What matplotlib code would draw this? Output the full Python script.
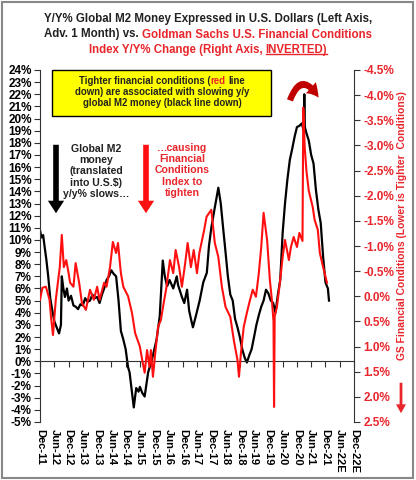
import numpy as np
import pandas as pd
import matplotlib
matplotlib.use("Agg")
import matplotlib.pyplot as plt
import matplotlib.dates as mdates
from matplotlib.patches import Rectangle, FancyArrowPatch
from matplotlib.lines import Line2D

plt.rcParams['font.family'] = ['Liberation Sans', 'DejaVu Sans']
plt.rcParams['font.weight'] = 'bold'

RED = '#e8262c'

# global M2 y/y % (left axis)
m2_dates = ["2011-12-01", "2011-12-20", "2012-01-10", "2012-02-01", "2012-02-20", "2012-03-15",
            "2012-04-10", "2012-05-01", "2012-06-01", "2012-07-01", "2012-08-01", "2012-08-25",
            "2012-09-05", "2012-09-25", "2012-10-15", "2012-11-10", "2012-12-01", "2013-01-01",
            "2013-02-01", "2013-03-01", "2013-04-01", "2013-05-01", "2013-06-01", "2013-07-01",
            "2013-08-01", "2013-09-01", "2013-10-01", "2013-11-01", "2013-12-01", "2014-01-01",
            "2014-02-01", "2014-03-01", "2014-04-01", "2014-05-01", "2014-06-01", "2014-07-01",
            "2014-08-01", "2014-09-01", "2014-10-01", "2014-11-01", "2014-12-01", "2015-01-01",
            "2015-01-20", "2015-03-15", "2015-04-15", "2015-05-15", "2015-06-01", "2015-07-01",
            "2015-08-01", "2015-09-15", "2015-11-01", "2016-01-01", "2016-02-10", "2016-03-20",
            "2016-04-15", "2016-05-15", "2016-06-15", "2016-08-01", "2016-09-15", "2016-10-01",
            "2016-11-20", "2016-12-20", "2017-01-25", "2017-02-20", "2017-03-15", "2017-04-10",
            "2017-05-20", "2017-07-05", "2017-08-20", "2017-10-05", "2017-11-01", "2017-12-01",
            "2018-01-10", "2018-03-01", "2018-04-01", "2018-05-01", "2018-06-01", "2018-07-01",
            "2018-08-01", "2018-09-01", "2018-10-01", "2018-11-01", "2018-12-01", "2019-01-01",
            "2019-02-01", "2019-03-01", "2019-04-01", "2019-05-01", "2019-06-01", "2019-07-01",
            "2019-08-01", "2019-09-01", "2019-10-01", "2019-11-01", "2019-12-01", "2020-01-01",
            "2020-02-01", "2020-03-01", "2020-04-01", "2020-05-01", "2020-06-01", "2020-07-01",
            "2020-08-01", "2020-09-01", "2020-10-01", "2020-11-01", "2020-12-01", "2021-01-01",
            "2021-02-01", "2021-02-25", "2021-03-05", "2021-03-12", "2021-04-01", "2021-05-01",
            "2021-06-01", "2021-07-01", "2021-08-01", "2021-09-01", "2021-10-01", "2021-11-01",
            "2021-12-01", "2022-01-01", "2022-01-15"]
m2_yoy = [10.8, 10.2, 10.4, 9.3, 8.4, 7.0,
          5.2, 4.4, 3.3, 2.8, 2.3, 3.0,
          7.0, 6.0, 5.3, 6.0, 5.0, 5.4,
          4.6, 4.5, 4.3, 4.7, 4.6, 5.2,
          4.9, 5.0, 5.5, 5.2, 5.3, 4.8,
          5.5, 6.0, 6.7, 7.0, 7.5, 7.2,
          7.0, 5.0, 2.5, 1.8, 1.0, -0.5,
          -0.9, -3.8, -2.2, -2.5, -2.1, -2.6,
          -2.9, -0.9, 0.1, 1.8, 3.7, 8.3,
          7.0, 6.2, 6.7, 6.0, 7.0, 6.3,
          5.3, 4.8, 5.9, 4.2, 3.5, 2.8,
          3.8, 5.0, 6.5, 7.3, 9.5, 11.0,
          12.5, 14.3, 13.0, 11.0, 9.0, 7.0,
          5.5, 5.0, 3.5, 2.8, 2.0, 1.0,
          0.3, -0.1, 0.5, 1.0, 2.0, 3.0,
          3.8, 4.5, 5.0, 5.9, 5.6, 5.0,
          4.8, 4.0, 5.5, 6.7, 10.6, 13.0,
          15.0, 16.6, 17.5, 18.5, 19.3, 19.4,
          19.6, 19.0, 22.0, 19.3, 18.8, 18.2,
          17.0, 16.3, 14.1, 12.5, 11.4, 8.6,
          6.5, 6.0, 5.0]

# GS financial conditions index y/y change (right axis, inverted)
fci_dates = ["2011-12-01", "2012-01-01", "2012-02-15", "2012-04-01", "2012-04-20", "2012-05-15",
             "2012-06-20", "2012-08-10", "2012-09-05", "2012-10-01", "2012-11-01", "2012-12-01",
             "2012-12-20", "2013-02-01", "2013-03-01", "2013-04-15", "2013-05-20", "2013-07-10",
             "2013-09-01", "2013-10-20", "2013-12-01", "2014-01-01", "2014-03-01", "2014-04-01",
             "2014-05-15", "2014-06-20", "2014-08-01", "2014-08-25", "2014-10-01", "2014-11-01",
             "2015-01-01", "2015-02-20", "2015-04-01", "2015-06-01", "2015-07-01", "2015-08-01",
             "2015-09-01", "2015-10-01", "2015-10-20", "2015-11-15", "2015-12-10", "2016-01-20",
             "2016-02-25", "2016-04-01", "2016-05-01", "2016-06-20", "2016-08-01", "2016-09-01",
             "2016-10-15", "2016-11-20", "2017-01-01", "2017-02-01", "2017-03-15", "2017-04-20",
             "2017-06-01", "2017-07-01", "2017-09-01", "2017-10-01", "2017-12-01", "2018-01-15",
             "2018-03-01", "2018-04-15", "2018-06-01", "2018-08-01", "2018-09-15", "2018-11-01",
             "2018-11-20", "2018-12-15", "2019-01-20", "2019-03-01", "2019-04-01", "2019-05-15",
             "2019-06-25", "2019-08-01", "2019-09-01", "2019-10-01", "2019-11-15", "2019-12-20",
             "2020-01-15", "2020-02-05", "2020-02-12", "2020-02-20", "2020-03-20", "2020-05-01",
             "2020-06-01", "2020-07-01", "2020-08-20", "2020-09-15", "2020-10-20", "2020-12-01",
             "2021-01-01", "2021-02-10", "2021-02-20", "2021-03-10", "2021-04-01", "2021-05-01",
             "2021-06-20", "2021-07-15", "2021-08-25", "2021-09-20", "2021-11-01", "2021-11-20",
             "2021-12-20"]
fci_yoy = [0.07, -0.17, -0.19, 0.07, 0.41, 0.77,
           0.07, -0.58, -1.22, -0.58, -0.72, -0.46,
           -0.27, -0.19, -0.66, -0.27, 0.13, 0.27,
           -0.13, 0.07, -0.19, 0.07, -0.27, -0.19,
           -0.58, -1.08, -0.86, -1.06, -0.46, -0.19,
           0.0, 0.33, 0.73, 1.0, 1.27, 1.52,
           1.07, 1.4, 1.07, 1.6, 1.2, 0.61,
           0.47, 0.13, -0.13, -0.72, -0.46, -0.92,
           -0.58, -0.19, -0.66, -1.06, -0.58, -0.92,
           -0.46, -0.86, -1.32, -1.58, -1.72, -1.06,
           -0.78, -0.19, 0.21, 0.41, 0.87, 1.27,
           1.6, 1.13, 0.61, 0.33, 0.13, -0.13,
           0.01, -0.46, -0.98, -1.66, -1.12, -0.33,
           0.07, 0.5, 2.2, 0.4, 0.21, -0.33,
           -0.78, -1.12, -0.72, -0.98, -1.18, -0.98,
           -1.26, -1.1, -3.75, -2.97, -2.5, -2.1,
           -1.78, -1.52, -1.32, -0.86, -0.58, -0.46,
           -0.27]

tick_labels = ["Dec-11", "Jun-12", "Dec-12", "Jun-13", "Dec-13", "Jun-14", "Dec-14", "Jun-15",
               "Dec-15", "Jun-16", "Dec-16", "Jun-17", "Dec-17", "Jun-18", "Dec-18", "Jun-19",
               "Dec-19", "Jun-20", "Dec-20", "Jun-21", "Dec-21", "Jun-22E", "Dec-22E"]
tick_dates = pd.date_range("2011-12-01", "2022-12-01", freq="6MS")

W, H = 416, 480
fig = plt.figure(figsize=(W / 100, H / 100), dpi=100)


def px(x, y):
    return x / W, 1 - y / H


ax = fig.add_axes([40 / W, 1 - 422 / H, 314 / W, 352 / H])
ax2 = ax.twinx()

ax.plot(mdates.date2num(pd.to_datetime(m2_dates)), m2_yoy, color='black', lw=1.6)
ax2.plot(mdates.date2num(pd.to_datetime(fci_dates)), fci_yoy, color='#ff1010', lw=1.5)

xt = mdates.date2num(tick_dates)
ax.set_xlim(xt[0], xt[-1])
ax.set_ylim(-5, 24)
ax2.set_ylim(2.5, -4.5)

ax.set_yticks(np.arange(-5, 25, 1))
ax.set_yticklabels([f"{v}%" for v in range(-5, 25)])
ax2.set_yticks(np.arange(-4.5, 2.51, 0.5))
ax2.set_yticklabels([f"{v:.1f}%" for v in np.arange(-4.5, 2.51, 0.5)])

for s in ['top', 'right']:
    ax.spines[s].set_visible(False)
for s in ['top', 'left', 'bottom']:
    ax2.spines[s].set_visible(False)
ax.spines['bottom'].set_position(('data', 0))
ax.spines['left'].set_color('#333333')
ax.spines['bottom'].set_color('#333333')
ax2.spines['right'].set_color('#333333')

ax.set_xticks(xt)
ax.tick_params(axis='x', direction='out', length=4, labelbottom=False, color='#333333')
ax.tick_params(axis='y', direction='out', length=4, labelsize=8.5, color='#333333', pad=2)
ax2.tick_params(axis='y', direction='out', length=4, labelsize=8.5, labelcolor=RED,
                color='#333333', pad=3)

sec = ax.secondary_xaxis('bottom')
sec.set_xticks(xt)
sec.set_xticklabels(tick_labels, rotation=-90, fontsize=8)
sec.tick_params(length=0, pad=5)
sec.spines['bottom'].set_visible(False)

r = fig.canvas.get_renderer()


def mixed_line(cx, y, parts, size, underline_last=False):
    # text pieces in several colours, laid out side by side and centred on cx
    probe = fig.text(0, 0, "", fontsize=size, fontweight='bold')

    def width(s):
        probe.set_text(s + "|")
        a = probe.get_window_extent(r).width
        probe.set_text("|")
        return a - probe.get_window_extent(r).width

    full = "".join(s for s, c in parts)
    x0 = cx - width(full) / 2
    prefix = ""
    for i, (s, c) in enumerate(parts):
        lead = s[:len(s) - len(s.lstrip())]
        word = s.strip()
        xs = x0 + width(prefix + lead)
        fig.text(xs / W, 1 - y / H, word, color=c, fontsize=size, fontweight='bold',
                 va='baseline')
        if underline_last and i == len(parts) - 1:
            xe = x0 + width(prefix + lead + word)
            fig.add_artist(Line2D([xs / W, xe / W], [1 - (y + 1.8) / H] * 2, color=c, lw=1.0))
        prefix += s
    probe.remove()


# title
mixed_line(208, 22, [("Y/Y% Global M2 Money Expressed in U.S. Dollars (Left Axis,", '#222222')], 8.3)
mixed_line(208, 37.5, [("Adv. 1 Month) vs. ", '#222222'),
                       ("Goldman Sachs U.S. Financial Conditions", RED)], 8.3)
mixed_line(208, 52.5, [("Index Y/Y% Change (Right Axis, ", RED), ("INVERTED)", RED)], 8.3,
           underline_last=True)

# yellow call-out box
fig.add_artist(Rectangle(px(52, 116), 219 / W, 46 / H, transform=fig.transFigure,
                         facecolor='#ffff00', edgecolor='black', lw=1.0))
mixed_line(162, 84, [("Tighter financial conditions (", '#222222'), ("red", RED),
                     (" line", '#222222')], 6.9)
mixed_line(162, 95, [("down) are associated with slowing y/y", '#222222')], 6.9)
mixed_line(162, 106, [("global M2 money (black line down)", '#222222')], 6.9)

# side notes with arrows
fig.text(*px(96, 144), "Global M2\nmoney\n(translated\ninto U.S.$)\ny/y% slows\u2026",
         ha='center', va='top', fontsize=7.6, color='#222222', linespacing=1.15)
fig.text(*px(182, 143), "\u2026causing\nFinancial\nConditions\nIndex to\ntighten",
         ha='center', va='top', fontsize=7.6, color=RED, linespacing=1.15)

for xa, col in [(56, 'black'), (146, '#ff1010')]:
    fig.add_artist(FancyArrowPatch(px(xa, 142), px(xa, 216), transform=fig.transFigure,
                                   arrowstyle='simple,head_width=1.3,head_length=1.0,tail_width=0.45',
                                   mutation_scale=9, color=col, lw=0))

fig.add_artist(FancyArrowPatch(px(289, 103), px(320, 100), transform=fig.transFigure,
                               connectionstyle='arc3,rad=-1.1',
                               arrowstyle='simple,head_width=1.2,head_length=1.0,tail_width=0.5',
                               mutation_scale=9, color='#c00000', lw=0))

fig.text(*px(402, 226), "GS Financial Conditions (Lower is Tighter  Conditions)",
         rotation=90, ha='center', va='center', fontsize=7.4, color=RED)
fig.add_artist(FancyArrowPatch(px(401, 380), px(401, 416), transform=fig.transFigure,
                               arrowstyle='simple,head_width=0.9,head_length=0.8,tail_width=0.25',
                               mutation_scale=8, color=RED, lw=0))

# outer frame
fig.add_artist(Rectangle((2 / W, 2 / H), 411 / W, 476 / H, transform=fig.transFigure,
                         fill=False, edgecolor='#888888', lw=1.5))

fig.savefig("out.png", dpi=100)
